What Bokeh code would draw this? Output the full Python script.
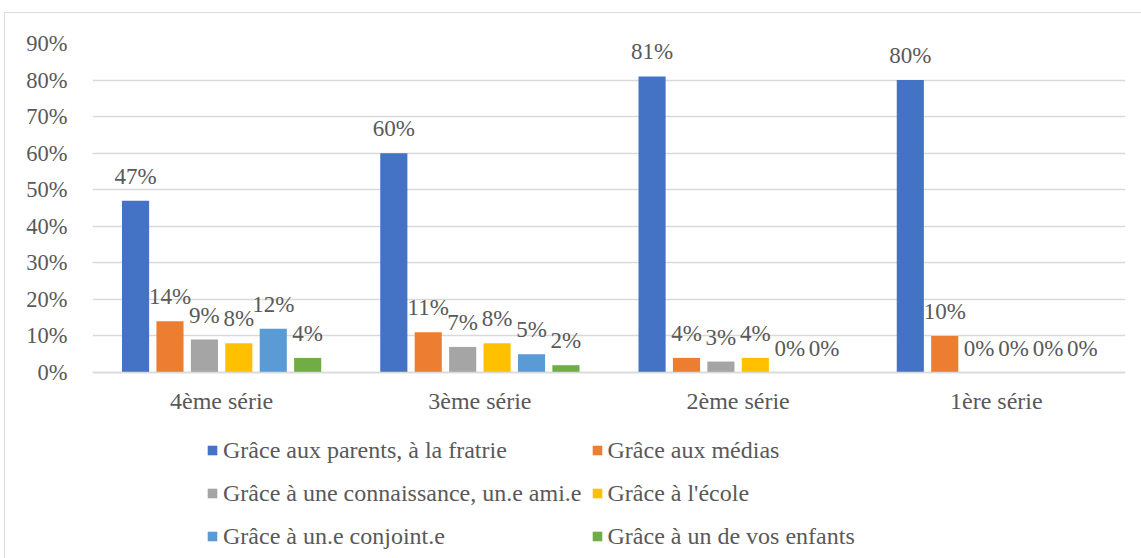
from bokeh.plotting import figure
from bokeh.models import ColumnDataSource, FactorRange, NumeralTickFormatter, FixedTicker, Legend, LegendItem
from bokeh.transform import dodge
from bokeh.core.properties import value
from bokeh.embed import file_html
from bokeh.resources import INLINE

categories = ["4ème série", "3ème série", "2ème série", "1ère série"]
series_names = [
    "Grâce aux parents, à la fratrie",
    "Grâce aux médias",
    "Grâce à une connaissance, un.e ami.e",
    "Grâce à l'école",
    "Grâce à un.e conjoint.e",
    "Grâce à un de vos enfants",
]
parents = [47, 60, 81, 80]
medias = [14, 11, 4, 10]
connaissance = [9, 7, 3, 0]
ecole = [8, 8, 4, 0]
conjoint = [12, 5, 0, 0]
enfants = [4, 2, 0, 0]
series_values = [parents, medias, connaissance, ecole, conjoint, enfants]
colors = ["#4472C4", "#ED7D31", "#A5A5A5", "#FFC000", "#5B9BD5", "#70AD47"]
y_ticks = [0, 0.1, 0.2, 0.3, 0.4, 0.5, 0.6, 0.7, 0.8, 0.9]

FONT = "'Liberation Serif'"
TXT = "#595959"
GRID = "#D9D9D9"

# figure placed at (4, 12); frame spans x 91..1124, y 42..558 on the page
p = figure(x_range=FactorRange(*categories, range_padding=0), y_range=(-0.5115, 0.9),
           width=1137, height=546, output_backend="svg", toolbar_location=None,
           min_border_left=87, min_border_right=17, min_border_top=30, min_border_bottom=0)
p.outline_line_color = None
p.styles = {"margin-left": "4px", "margin-top": "12px",
            "border-left": "1px solid #D9D9D9", "border-top": "1px solid #D9D9D9",
            "box-sizing": "border-box"}

step = 0.1333
bw = 0.105
items = []
for i, (name, vals, col) in enumerate(zip(series_names, series_values, colors)):
    src = ColumnDataSource(dict(cat=categories, v=[x / 100 for x in vals],
                                lab=["%d%%" % x for x in vals]))
    off = (i - 2.5) * step
    r = p.vbar(x=dodge("cat", off, range=p.x_range), top="v", width=bw, source=src,
               fill_color=col, line_color=None)
    p.text(x=dodge("cat", off, range=p.x_range), y="v", text="lab", source=src,
           text_align="center", text_baseline="bottom", y_offset=-12,
           text_font=value(FONT), text_font_size="23px", text_color=TXT)
    items.append(LegendItem(label=name, renderers=[r]))

p.yaxis.ticker = FixedTicker(ticks=y_ticks)
p.yaxis.formatter = NumeralTickFormatter(format="0%")
p.yaxis.axis_line_color = None
p.yaxis.major_tick_line_color = None
p.yaxis.minor_tick_line_color = None
p.yaxis.major_label_standoff = 19
p.yaxis.major_label_text_font_size = "22.5px"
p.yaxis.major_label_text_font = FONT
p.yaxis.major_label_text_color = TXT
p.xaxis.fixed_location = 0
p.xaxis.axis_line_color = GRID
p.xaxis.axis_line_width = 1.5
p.xaxis.major_tick_line_color = None
p.xaxis.minor_tick_line_color = None
p.xaxis.major_label_standoff = 9
p.xaxis.major_label_text_font_size = "24px"
p.xaxis.major_label_text_font = FONT
p.xaxis.major_label_text_color = TXT
p.xgrid.grid_line_color = None
p.ygrid.grid_line_color = GRID
p.ygrid.grid_line_width = 1.5
p.ygrid.ticker = FixedTicker(ticks=y_ticks)

legend = Legend(items=items, orientation="horizontal", ncols=2, location=(114, 6),
                label_text_font=FONT, label_text_font_size="24px", label_text_color=TXT,
                glyph_width=12, glyph_height=12, label_standoff=5, spacing=9,
                border_line_color=None, background_fill_alpha=0, padding=0, margin=0,
                label_height=34)
p.add_layout(legend, "center")

open("out.html", "w").write(file_html(p, INLINE))
